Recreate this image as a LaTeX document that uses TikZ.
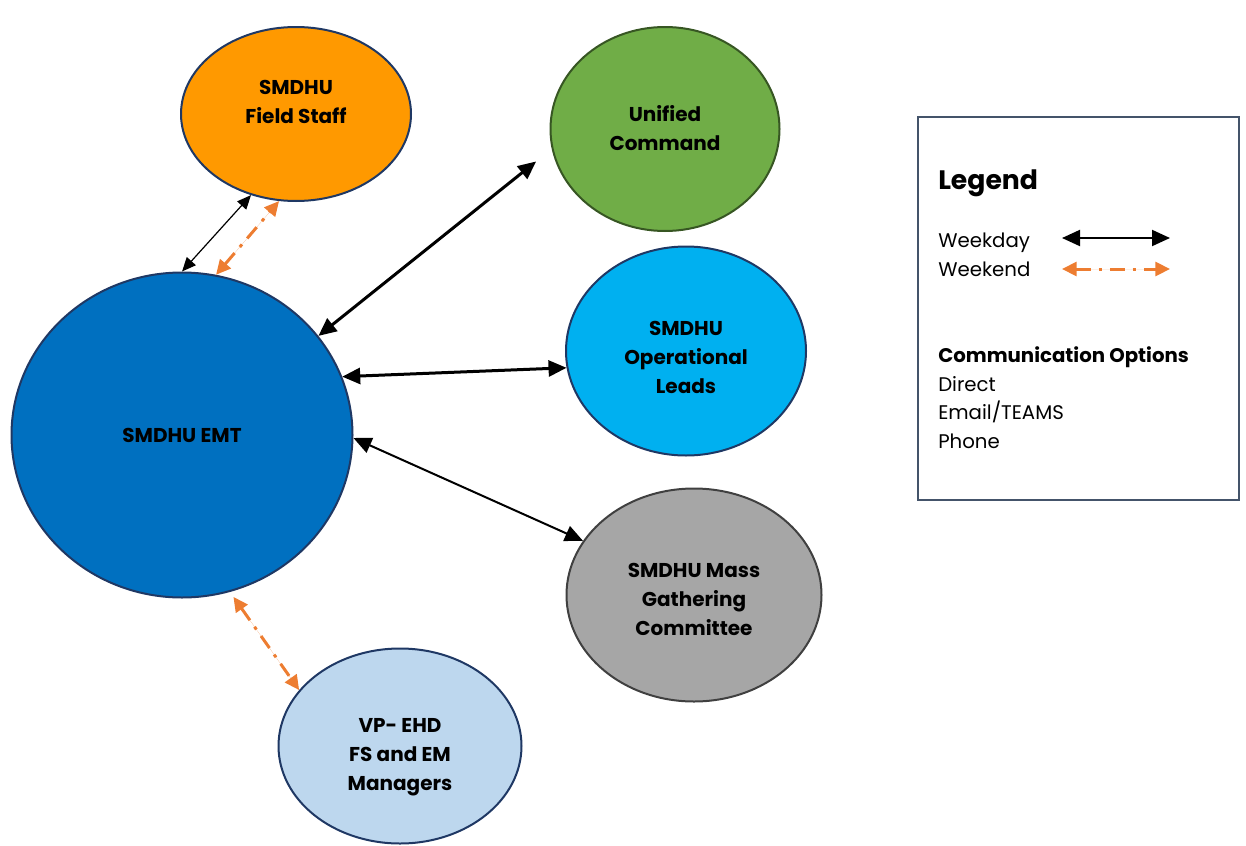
\documentclass[tikz,border=0pt]{standalone}
\usepackage{fontspec}
\setmainfont{Poppins}
\usetikzlibrary{shapes}
\usetikzlibrary{positioning}
\usetikzlibrary{arrows.meta}

\definecolor{navyline}{RGB}{31,56,100}
\definecolor{fieldorange}{RGB}{255,153,0}
\definecolor{cmdgreen}{RGB}{112,173,71}
\definecolor{cmdline}{RGB}{55,86,35}
\definecolor{emtblue}{RGB}{0,112,192}
\definecolor{leadsblue}{RGB}{0,176,240}
\definecolor{massgrey}{RGB}{166,166,166}
\definecolor{massline}{RGB}{64,64,64}
\definecolor{vpblue}{RGB}{189,215,238}
\definecolor{wkndorange}{RGB}{237,125,49}
\definecolor{legendline}{RGB}{68,84,106}

\begin{document}
\begin{tikzpicture}[x=0.75pt,y=-0.75pt,
	group node/.style={ellipse,draw=navyline,line width=1.5pt,inner sep=0pt},
	group text/.style={align=center,inner sep=0pt,font=\fontsize{15}{21.75}\selectfont\bfseries},
	weekday/.style={{Triangle[length=13.5pt,width=12pt]}-{Triangle[length=13.5pt,width=12pt]},line width=2.25pt},
	weekday thin/.style={{Triangle[length=10.5pt,width=9pt]}-{Triangle[length=10.5pt,width=9pt]},line width=0.9pt},
	weekend/.style={{Triangle[length=11pt,width=10.5pt]}-{Triangle[length=11pt,width=10.5pt]},draw=wkndorange,fill=wkndorange,line width=2.25pt,dash pattern=on 11pt off 6pt on 2.5pt off 6pt},
	legend text/.style={anchor=base west,inner sep=0pt,font=\fontsize{14.8}{16}\selectfont}]
	
	\useasboundingbox (0,0) rectangle (1246,846);
	
	\node[group node,fill=fieldorange,minimum width=172.5pt,minimum height=130.5pt] at (296,114) (field) {};
	\node[group node,draw=cmdline,fill=cmdgreen,minimum width=171.75pt,minimum height=153pt] at (665,129) (command) {};
	\node[group node,fill=emtblue,minimum width=255.75pt,minimum height=243.75pt] at (182,435) (emt) {};
	\node[group node,fill=leadsblue,minimum width=180pt,minimum height=156.75pt] at (686,351) (leads) {};
	\node[group node,draw=massline,fill=massgrey,minimum width=191.25pt,minimum height=159.75pt] at (694,595) (mass) {};
	\node[group node,fill=vpblue,minimum width=182.25pt,minimum height=146.25pt] at (400,746) (vp) {};
	
	\node[group text] at (296,102) (fieldtxt) {SMDHU\\Field Staff};
	\node[group text] at (665,128) (commandtxt) {Unified\\Command};
	\node[group text] at (182,435) (emttxt) {SMDHU EMT};
	\node[group text] at (686,357) (leadstxt) {SMDHU\\Operational\\Leads};
	\node[group text] at (694,599) (masstxt) {SMDHU Mass\\Gathering\\Committee};
	\node[group text] at (400,757) (vptxt) {VP- EHD\\FS and EM\\Managers};
	
	\path
	(emt.90) edge[weekday thin] (field.241)
	(emt.78) edge[weekend] (field.259)
	(emt.36) edge[weekday,shorten >=15pt] (command.190.5)
	(emt.20) edge[weekday] (leads.188.6)
	(emt.-1) edge[weekday,line width=1.5pt] (mass.154.5)
	(emt.-73) edge[weekend,shorten <=4.5pt] (vp.151.5)
	;
	
	% legend
	\node[draw=legendline,line width=1.5pt,minimum width=240.75pt,minimum height=287.25pt] at (1078.5,308.5) (legend) {};
	\node[legend text,font=\fontsize{20}{22}\selectfont\bfseries] at (938,189) (legtitle) {Legend};
	\node[legend text] at (938,247) (wkday) {Weekday};
	\node[legend text] at (938,276) (wkend) {Weekend};
	\coordinate (wkdayL) at (1062,238);
	\coordinate (wkdayR) at (1170,238);
	\coordinate (wkendL) at (1062,269);
	\coordinate (wkendR) at (1170,269);
	\draw[weekday,line width=1.5pt] (wkdayL) -- (wkdayR);
	\draw[weekend] (wkendL) -- (wkendR);
	\node[legend text,font=\fontsize{14.8}{16}\selectfont\bfseries] at (938,362) (options) {Communication Options};
	\node[legend text] at (938,391) (direct) {Direct};
	\node[legend text] at (938,419) (email) {Email/TEAMS};
	\node[legend text] at (938,448) (phone) {Phone};
	
\end{tikzpicture}
\end{document}
